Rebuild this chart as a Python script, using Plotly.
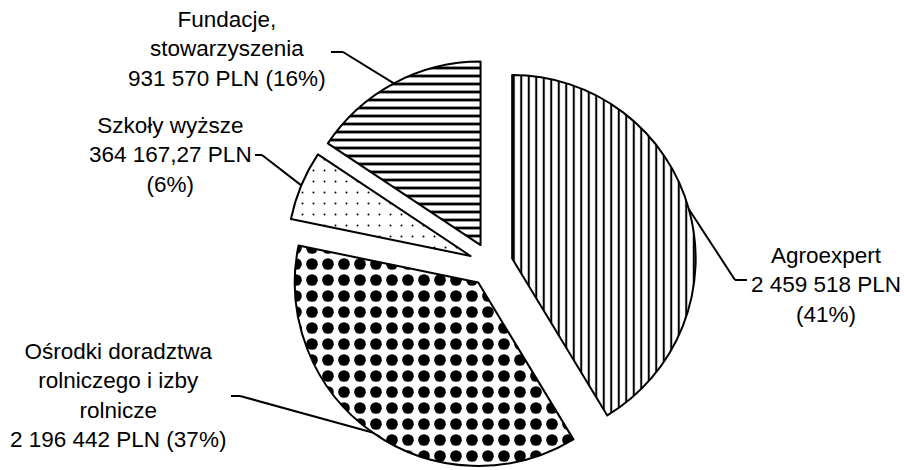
import math
import plotly.graph_objects as go

# ---- data -------------------------------------------------------------
labels = [
    "Agroexpert",
    "Ośrodki doradztwa rolniczego i izby rolnicze",
    "Szkoły wyższe",
    "Fundacje, stowarzyszenia",
]
values = [2459518, 2196442, 364167.27, 931570]
label_texts = [
    "Agroexpert<br>2 459 518 PLN<br>(41%)",
    "Ośrodki doradztwa<br>rolniczego i izby<br>rolnicze<br>2 196 442 PLN (37%)",
    "Szkoły wyższe<br>364 167,27 PLN<br>(6%)",
    "Fundacje,<br>stowarzyszenia<br>931 570 PLN (16%)",
]

# ---- styling ----------------------------------------------------------
pattern_shapes = ["|", ".", ".", "-"]
pattern_sizes = [7.5, 16, 11, 8]
pattern_solidity = [0.27, 0.42, 0.025, 0.35]

W, H = 907, 470
PULL = 0.12
DOM_X = [0.2913, 0.7913]
DOM_Y = [0.0, 0.8745]
FONT = dict(family="Arial, Liberation Sans, sans-serif", size=22.5, color="black")

# label centres and the elbow of each leader line (pixels)
label_pos = [(826, 285), (118, 395), (170, 155), (227, 49)]
leader_elbows = [
    [(747, 280), (735, 280)],
    [(231, 396), (240, 396)],
    [(255, 155), (262, 155)],
    [(331, 52), (343, 52)],
]

# ---- pie geometry as plotly lays it out -------------------------------
box_w = W * (DOM_X[1] - DOM_X[0])
box_h = H * (DOM_Y[1] - DOM_Y[0])
r = min(box_w, box_h) / 2 / (1 + PULL)
cx = W * (DOM_X[0] + DOM_X[1]) / 2
cy = H * (1 - DOM_Y[0]) - box_h / 2

total = sum(values)
mid_points = []
acc = 0.0
for v in values:
    mid = (acc + v / 2) / total * 2 * math.pi  # clockwise from 12 o'clock
    acc += v
    d = (1 + PULL) * r
    mid_points.append((cx + d * math.sin(mid), cy - d * math.cos(mid)))


def px(x, y):
    return x / W, 1 - y / H


fig = go.Figure(
    go.Pie(
        labels=labels,
        values=values,
        sort=False,
        direction="clockwise",
        rotation=0,
        pull=[PULL] * len(values),
        textinfo="none",
        hoverinfo="label+value+percent",
        showlegend=False,
        domain=dict(x=DOM_X, y=DOM_Y),
        marker=dict(
            colors=["white"] * len(values),
            line=dict(color="black", width=2),
            pattern=dict(
                shape=pattern_shapes,
                size=pattern_sizes,
                solidity=pattern_solidity,
                fgcolor="black",
                bgcolor="white",
                fillmode="replace",
            ),
        ),
    )
)

shapes = []
for elbow, tip in zip(leader_elbows, mid_points):
    pts = elbow + [tip]
    for (x0, y0), (x1, y1) in zip(pts[:-1], pts[1:]):
        a, b = px(x0, y0)
        c, d = px(x1, y1)
        shapes.append(dict(type="line", xref="paper", yref="paper",
                           x0=a, y0=b, x1=c, y1=d, layer="below",
                           line=dict(color="black", width=2)))

annotations = []
for text, (x, y) in zip(label_texts, label_pos):
    a, b = px(x, y)
    annotations.append(dict(text=text, x=a, y=b, xref="paper", yref="paper",
                            xanchor="center", yanchor="middle", align="center",
                            showarrow=False, font=FONT))

fig.update_layout(
    width=W,
    height=H,
    margin=dict(l=0, r=0, t=0, b=0),
    paper_bgcolor="white",
    plot_bgcolor="white",
    shapes=shapes,
    annotations=annotations,
)

fig.write_html("out.html")
